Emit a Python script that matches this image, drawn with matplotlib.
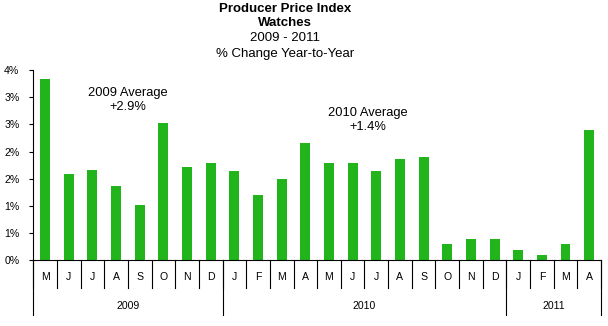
import matplotlib
matplotlib.use("Agg")
import matplotlib.pyplot as plt
import matplotlib.transforms as mtransforms
import numpy as np

plt.rcParams['font.family'] = ['Liberation Sans', 'DejaVu Sans']

# Monthly year-over-year % change, May 2009 - Apr 2011
months = ["M", "J", "J", "A", "S", "O", "N", "D",
          "J", "F", "M", "A", "M", "J", "J", "A", "S", "O", "N", "D",
          "J", "F", "M", "A"]
values = [3.34, 1.59, 1.66, 1.37, 1.02, 2.53, 1.72, 1.79,
          1.64, 1.20, 1.50, 2.16, 1.79, 1.79, 1.64, 1.87, 1.90, 0.30, 0.39, 0.39,
          0.19, 0.10, 0.30, 2.40]
years = ["2009", "2010", "2011"]
year_counts = [8, 12, 4]
y_ticks = [0, 0.5, 1.0, 1.5, 2.0, 2.5, 3.0, 3.5]
y_tick_labels = ["0%", "1%", "1%", "2%", "2%", "3%", "3%", "4%"]

bar_color = "#21B41B"

fig = plt.figure(figsize=(6.08, 3.26), dpi=100)
ax = fig.add_axes([0.0548, 0.2015, 0.9337, 0.5837])

x = np.arange(len(values))
ax.bar(x, values, width=0.42, color=bar_color, zorder=2)

ax.set_xlim(-0.5, len(values) - 0.5)
ax.set_ylim(0, 3.5)
ax.set_yticks(y_ticks)
ax.set_yticklabels(y_tick_labels, fontsize=7.6)
ax.tick_params(axis='y', length=3, width=0.8, pad=7, direction='out')
ax.set_xticks([])

for s in ("top", "right"):
    ax.spines[s].set_visible(False)
for s in ("left", "bottom"):
    ax.spines[s].set_linewidth(0.8)
    ax.spines[s].set_color("black")

trans = mtransforms.blended_transform_factory(ax.transData, ax.transAxes)

# Month separators and labels
for i in range(len(values) + 1):
    ax.plot([i - 0.5, i - 0.5], [0, -0.1456], transform=trans, color="black",
            lw=0.8, clip_on=False)
for i, m in enumerate(months):
    ax.text(i, -0.0878, m, transform=trans, ha="center", va="center", fontsize=7.6)

# Year separators and labels
start = 0
bounds = [0]
for n in year_counts:
    start += n
    bounds.append(start)
for b in bounds:
    ax.plot([b - 0.5, b - 0.5], [0, -0.287], transform=trans, color="black",
            lw=0.8, clip_on=False)
for yr, a, b in zip(years, bounds[:-1], bounds[1:]):
    ax.text((a + b - 1) / 2, -0.2386, yr, transform=trans, ha="center",
            va="center", fontsize=7.6)

# Yearly average annotations
ax.text(3.48, 2.95, "2009 Average\n+2.9%", ha="center", va="center",
        fontsize=9.3, linespacing=1.2)
ax.text(13.65, 2.58, "2010 Average\n+1.4%", ha="center", va="center",
        fontsize=9.3, linespacing=1.2)

# Titles
tx = 285 / 608
fig.text(tx, 1 - 8.5 / 326, "Producer Price Index", ha="center", va="center",
         fontsize=9.5, fontweight="bold")
fig.text(tx, 1 - 23.3 / 326, "Watches", ha="center", va="center",
         fontsize=9.5, fontweight="bold")
fig.text(tx, 1 - 38.3 / 326, "2009 - 2011", ha="center", va="center", fontsize=9.5)
fig.text(tx, 1 - 53.5 / 326, "% Change Year-to-Year", ha="center", va="center",
         fontsize=9.5)

fig.savefig("out.png", dpi=100)
